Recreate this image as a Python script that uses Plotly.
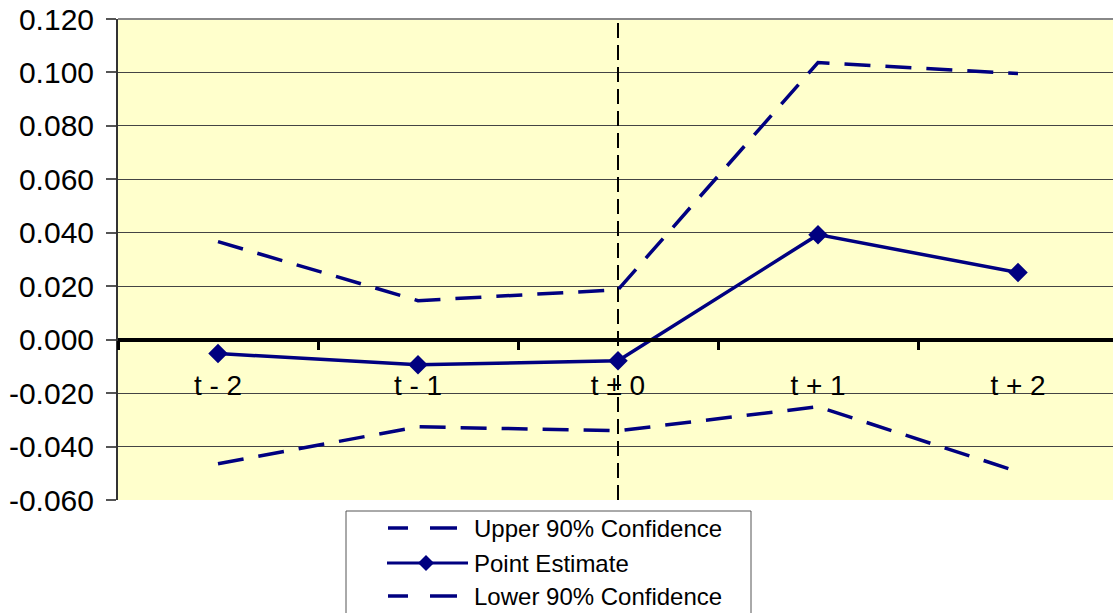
import plotly.graph_objects as go

# Event-time categories and estimates
periods = ["t - 2", "t - 1", "t ± 0", "t + 1", "t + 2"]
upper_90 = [0.0367, 0.0146, 0.0187, 0.1037, 0.0996]
point_est = [-0.0052, -0.0094, -0.0079, 0.0393, 0.0251]
lower_90 = [-0.0464, -0.0326, -0.0341, -0.0251, -0.0494]
y_ticks = [0.12, 0.10, 0.08, 0.06, 0.04, 0.02, 0.0, -0.02, -0.04, -0.06]
y_tick_text = ["0.120", "0.100", "0.080", "0.060", "0.040", "0.020", "0.000",
               "-0.020", "-0.040", "-0.060"]
event_period = "t ± 0"

NAVY = "#000080"
FONT = "Liberation Sans, Arial, Helvetica, sans-serif"
W, H = 1113, 613
M_L, M_R, M_T, M_B = 118, 0, 19, 113
PW, PH = W - M_L - M_R, H - M_T - M_B
Y_MIN, Y_MAX = -0.06, 0.12

def px_x(px):
    return (px - M_L) / PW

def px_y(py):
    return (H - M_B - py) / PH

dash_style = "26px,15px"

fig = go.Figure()
fig.add_trace(go.Scatter(x=periods, y=upper_90, mode="lines", name="Upper 90% Confidence",
                         line=dict(color=NAVY, width=3.5, dash=dash_style)))
fig.add_trace(go.Scatter(x=periods, y=point_est, mode="lines+markers", name="Point Estimate",
                         line=dict(color=NAVY, width=3.5),
                         marker=dict(symbol="diamond", size=15, color=NAVY)))
fig.add_trace(go.Scatter(x=periods, y=lower_90, mode="lines", name="Lower 90% Confidence",
                         line=dict(color=NAVY, width=3.5, dash=dash_style)))

# vertical marker at the event period
ev_idx = periods.index(event_period)
fig.add_shape(type="line", xref="x", yref="y", x0=ev_idx, x1=ev_idx, y0=Y_MIN, y1=Y_MAX,
              line=dict(color="black", width=2, dash="15px,7px"), layer="between")

# top border of the plot area
fig.add_shape(type="line", xref="paper", yref="paper", x0=0, x1=1, y0=1, y1=1,
              line=dict(color="#888888", width=2), layer="above")

# legend box drawn by hand
fig.add_shape(type="rect", xref="paper", yref="paper",
              x0=px_x(346), x1=px_x(751), y0=px_y(511), y1=px_y(625),
              fillcolor="white", line=dict(color="#555555", width=1))
rows = [("Upper 90% Confidence", 528, "dash"),
        ("Point Estimate", 563, "solid"),
        ("Lower 90% Confidence", 596, "dash")]
for label, ry, style in rows:
    if style == "dash":
        for a, b in [(388, 408), (430, 457)]:
            fig.add_shape(type="line", xref="paper", yref="paper",
                          x0=px_x(a), x1=px_x(b), y0=px_y(ry), y1=px_y(ry),
                          line=dict(color=NAVY, width=3.5))
    else:
        fig.add_shape(type="line", xref="paper", yref="paper",
                      x0=px_x(387), x1=px_x(468), y0=px_y(ry), y1=px_y(ry),
                      line=dict(color=NAVY, width=3))
        cx, cy = 426, ry
        path = "M {},{} L {},{} L {},{} L {},{} Z".format(
            px_x(cx - 8), px_y(cy), px_x(cx), px_y(cy - 8),
            px_x(cx + 8), px_y(cy), px_x(cx), px_y(cy + 8))
        fig.add_shape(type="path", xref="paper", yref="paper", path=path,
                      fillcolor=NAVY, line=dict(color=NAVY, width=0))
    fig.add_annotation(xref="paper", yref="paper", x=px_x(472), y=px_y(ry),
                       text=label, showarrow=False, xanchor="left", yanchor="middle",
                       font=dict(family=FONT, size=24, color="black"))

fig.update_layout(
    width=W, height=H,
    margin=dict(l=M_L, r=M_R, t=M_T, b=M_B, pad=0),
    paper_bgcolor="white",
    plot_bgcolor="#FFFFCC",
    showlegend=False,
    font=dict(family=FONT, color="black"),
    xaxis=dict(
        type="category",
        range=[-0.5, -0.5 + PW / 200.0],
        anchor="free",
        position=(0 - Y_MIN) / (Y_MAX - Y_MIN),
        showline=True, linecolor="black", linewidth=3.5,
        ticks="outside", ticklen=9, tickwidth=3, tickcolor="black",
        tickson="boundaries",
        showgrid=False, zeroline=False,
        tickfont=dict(family=FONT, size=28, color="black"),
        ticklabelstandoff=20,
    ),
    yaxis=dict(
        range=[Y_MIN, Y_MAX],
        tickvals=y_ticks,
        ticktext=y_tick_text,
        showline=True, linecolor="#333333", linewidth=2,
        ticks="outside", ticklen=10, tickwidth=1.5, tickcolor="#555555",
        showgrid=True, gridcolor="#444444", gridwidth=1,
        zeroline=False,
        tickfont=dict(family=FONT, size=30, color="black"),
        ticklabelstandoff=6,
    ),
)

fig.write_html("out.html")
